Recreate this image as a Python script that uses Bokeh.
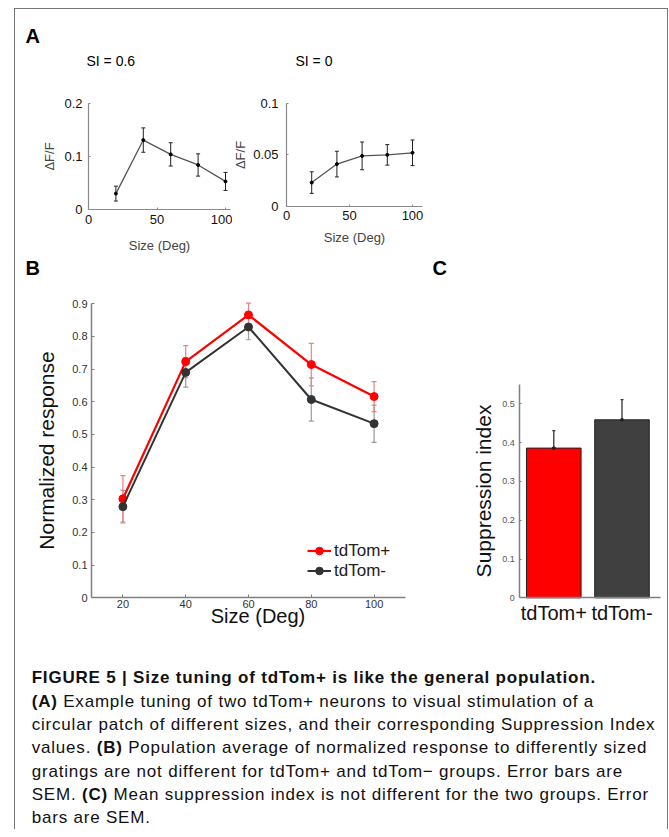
from bokeh.plotting import figure
from bokeh.models import (ColumnDataSource, Whisker, TeeHead, Label, Legend, LegendItem,
                          FixedTicker, Range1d, Div, Spacer)
from bokeh.layouts import row, column
from bokeh.embed import file_html
from bokeh.resources import INLINE

# ---------------- data ----------------
sizes_a = [20, 40, 60, 80, 100]
a1_resp = [0.030, 0.131, 0.104, 0.084, 0.053]
a1_sem = [0.014, 0.023, 0.022, 0.021, 0.017]
a2_resp = [0.023, 0.041, 0.049, 0.050, 0.052]
a2_sem = [0.0105, 0.0125, 0.0135, 0.010, 0.0125]

sizes_b = [20, 40, 60, 80, 100]
b_pos = [0.303, 0.723, 0.866, 0.714, 0.616]
b_pos_sem = [0.071, 0.049, 0.036, 0.065, 0.046]
b_neg = [0.279, 0.690, 0.829, 0.607, 0.533]
b_neg_sem = [0.050, 0.045, 0.039, 0.066, 0.057]

groups_c = ["tdTom+", "tdTom-"]
si_c = [0.386, 0.459]
si_sem = [0.045, 0.052]

a1_xticks = [0, 50, 100]
a1_yticks = [0, 0.1, 0.2]
a1_ylabels = ["0", "0.1", "0.2"]
a2_xticks = [0, 50, 100]
a2_yticks = [0, 0.05, 0.1]
a2_ylabels = ["0", "0.05", "0.1"]
b_xticks = [20, 40, 60, 80, 100]
b_yticks = [0, 0.1, 0.2, 0.3, 0.4, 0.5, 0.6, 0.7, 0.8, 0.9]
b_ylabels = ["0", "0.1", "0.2", "0.3", "0.4", "0.5", "0.6", "0.7", "0.8", "0.9"]
c_yticks = [0, 0.1, 0.2, 0.3, 0.4, 0.5]
c_ylabels = ["0", "0.1", "0.2", "0.3", "0.4", "0.5"]

FONT = "Liberation Sans"


def span(lo_px, hi_px, anchor_px, anchor_val, ppu, flip=False):
    """Range whose ends fall on pixel edges lo_px/hi_px given an anchor and pixels per unit."""
    if flip:  # vertical: pixels grow downward
        return Range1d(anchor_val + (anchor_px - hi_px) / ppu, anchor_val + (anchor_px - lo_px) / ppu)
    return Range1d(anchor_val + (lo_px - anchor_px) / ppu, anchor_val + (hi_px - anchor_px) / ppu)


def full_fig(x0, x1, y0, y1, xr, yr):
    p = figure(width=x1 - x0, height=y1 - y0, x_range=xr, y_range=yr,
               output_backend="svg", toolbar_location=None, title=None,
               min_border=0)
    p.xgrid.visible = False
    p.ygrid.visible = False
    p.outline_line_color = None
    p.background_fill_color = "white"
    p.border_fill_color = "white"
    for ax in (p.xaxis[0], p.yaxis[0]):
        ax.minor_tick_line_color = None
        ax.major_tick_out = 0
        ax.major_tick_in = 2
        ax.major_label_text_font = FONT
        ax.axis_label_text_font = FONT
        ax.axis_label_text_font_style = "normal"
    return p


def style_axis(ax, ticks, labels, size, color, axis_color, width, standoff, loc, bounds):
    ax.ticker = FixedTicker(ticks=ticks)
    ax.major_label_overrides = {t: l for t, l in zip(ticks, labels)}
    ax.major_label_text_font_size = size
    ax.major_label_text_color = color
    ax.axis_line_color = axis_color
    ax.axis_line_width = width
    ax.major_tick_line_color = axis_color
    ax.major_label_standoff = standoff
    ax.fixed_location = loc
    ax.bounds = bounds


def add_label(p, text, x, y, size, bold=False, align="left", color="black"):
    p.add_layout(Label(x=x, y=y, x_units="screen", y_units="screen", text=text,
                       text_font=FONT, text_font_size=size, text_color=color,
                       text_font_style="bold" if bold else "normal",
                       text_align=align, text_baseline="alphabetic"))


def err_src(xs, ys, es):
    return ColumnDataSource(dict(x=xs, y=ys,
                                 lo=[v - e for v, e in zip(ys, es)],
                                 hi=[v + e for v, e in zip(ys, es)]))


# ---------------- panel A1 (page px 15..232 x 9..255) ----------------
pa1 = full_fig(15, 232, 9, 255, span(15, 232, 88, 0, 1.37), span(9, 255, 209, 0, 530, flip=True))
style_axis(pa1.xaxis[0], a1_xticks, [str(t) for t in a1_xticks], "13px", "#111", "#8a8a8a", 1.2, 5, 0, (0, 103.6))
style_axis(pa1.yaxis[0], a1_yticks, a1_ylabels, "13px", "#111", "#8a8a8a", 1.2, 6, 0, (0, 0.2))
pa1.xaxis.axis_label = "Size (Deg)"
pa1.xaxis.axis_label_text_font_size = "13px"
pa1.xaxis.axis_label_standoff = 11
pa1.yaxis.axis_label = "\u0394F/F"
pa1.yaxis.axis_label_text_font_size = "13px"
pa1.yaxis.axis_label_standoff = 4
src_a1 = err_src(sizes_a, a1_resp, a1_sem)
pa1.add_layout(Whisker(source=src_a1, base="x", lower="lo", upper="hi",
                       line_color="#222", line_width=1,
                       upper_head=TeeHead(size=4, line_color="#222", line_width=1),
                       lower_head=TeeHead(size=4, line_color="#222", line_width=1)))
pa1.line("x", "y", source=src_a1, line_color="#555", line_width=1.3)
pa1.scatter("x", "y", source=src_a1, size=3, color="black")
add_label(pa1, "A", 10, 220, "20px", bold=True)
add_label(pa1, "SI = 0.6", 71, 195, "14px")

# ---------------- panel A2 (page px 232..440 x 9..255) ----------------
pa2 = full_fig(232, 440, 9, 255, span(232, 440, 286, 0, 1.26), span(9, 255, 205.7, 0, 1027, flip=True))
style_axis(pa2.xaxis[0], a2_xticks, [str(t) for t in a2_xticks], "13px", "#111", "#8a8a8a", 1.2, 5, 0, (0, 108))
style_axis(pa2.yaxis[0], a2_yticks, a2_ylabels, "13px", "#111", "#8a8a8a", 1.2, 8, 0, (0, 0.1))
pa2.xaxis.axis_label = "Size (Deg)"
pa2.xaxis.axis_label_text_font_size = "13px"
pa2.xaxis.axis_label_standoff = 6
pa2.yaxis.axis_label = "\u0394F/F"
pa2.yaxis.axis_label_text_font_size = "13px"
pa2.yaxis.axis_label_standoff = 2
src_a2 = err_src(sizes_a, a2_resp, a2_sem)
pa2.add_layout(Whisker(source=src_a2, base="x", lower="lo", upper="hi",
                       line_color="#222", line_width=1,
                       upper_head=TeeHead(size=4, line_color="#222", line_width=1),
                       lower_head=TeeHead(size=4, line_color="#222", line_width=1)))
pa2.line("x", "y", source=src_a2, line_color="#555", line_width=1.3)
pa2.scatter("x", "y", source=src_a2, size=3, color="black")
add_label(pa2, "SI = 0", 63, 195, "14px")

# ---------------- panel B (page px 15..450 x 255..640) ----------------
pb = full_fig(15, 450, 255, 640, span(15, 450, 91, 10, 3.14), span(255, 640, 597.3, 0, 326.67, flip=True))
style_axis(pb.xaxis[0], b_xticks, [str(t) for t in b_xticks], "11px", "#333", "#808080", 1.5, 2, 0, (10, 110))
style_axis(pb.yaxis[0], b_yticks, b_ylabels, "11px", "#333", "#808080", 1.5, 4, 10, (0, 0.9))
pb.xaxis.major_tick_in = 3
pb.yaxis.major_tick_in = 3
pb.yaxis.axis_label = "Normalized response"
pb.yaxis.axis_label_text_font_size = "21px"
pb.yaxis.axis_label_text_color = "#111"
pb.yaxis.axis_label_standoff = 11

src_bp = err_src(sizes_b, b_pos, b_pos_sem)
src_bn = err_src(sizes_b, b_neg, b_neg_sem)
for src, col in ((src_bn, "#9a9a9a"), (src_bp, "#f08080")):
    pb.add_layout(Whisker(source=src, base="x", lower="lo", upper="hi",
                          line_color=col, line_width=1.2,
                          upper_head=TeeHead(size=5, line_color=col, line_width=1.2),
                          lower_head=TeeHead(size=5, line_color=col, line_width=1.2)))
ln_p = pb.line("x", "y", source=src_bp, line_color="#ff0000", line_width=2.2)
sc_p = pb.scatter("x", "y", source=src_bp, size=8, color="#ff0000")
ln_n = pb.line("x", "y", source=src_bn, line_color="#333333", line_width=2)
sc_n = pb.scatter("x", "y", source=src_bn, size=8, color="#333333")
legend = Legend(items=[LegendItem(label="tdTom+", renderers=[ln_p, sc_p]),
                       LegendItem(label="tdTom-", renderers=[ln_n, sc_n])],
                location=(292, 59.5), glyph_width=24, glyph_height=19, label_height=19,
                label_standoff=3, spacing=0, padding=0, margin=0,
                border_line_color=None, background_fill_alpha=0,
                label_text_font=FONT, label_text_font_size="17px", label_text_color="#222")
pb.add_layout(legend)
add_label(pb, "Size (Deg)", 242.5, 25, "20px", align="center", color="#111")
add_label(pb, "B", 10, 373, "20px", bold=True)
add_label(pb, "C", 417, 373, "20px", bold=True)

# ---------------- panel C (page px 450..667 x 255..640) ----------------
pc = full_fig(450, 667, 255, 640, span(450, 667, 553.3, 1, 68.2), span(255, 640, 597.3, 0, 387.8, flip=True))
xpos_c = [i + 1 for i in range(len(groups_c))]
style_axis(pc.xaxis[0], xpos_c, groups_c, "20px", "#111", "#808080", 1.5, 4, 0, (0.5, 2.565))
style_axis(pc.yaxis[0], c_yticks, c_ylabels, "9px", "#555", "#808080", 1.5, 5, 0.5, (0, 0.55))
pc.xaxis.major_tick_in = 0
pc.yaxis.axis_label = "Suppression index"
pc.yaxis.axis_label_text_font_size = "21px"
pc.yaxis.axis_label_text_color = "#111"
pc.yaxis.axis_label_standoff = 4
src_c = ColumnDataSource(dict(x=xpos_c, top=si_c, hi=[v + e for v, e in zip(si_c, si_sem)],
                              color=["#ff0000", "#404040"]))
pc.vbar(x="x", top="top", width=0.8, bottom=0, source=src_c, fill_color="color",
        line_color="#222", line_width=1)
pc.add_layout(Whisker(source=src_c, base="x", lower="top", upper="hi",
                      line_color="#333", line_width=1.3, level="overlay",
                      upper_head=TeeHead(size=3, line_color="#333", line_width=1.3),
                      lower_head=None))
pc.scatter("x", "top", source=src_c, size=3, color="#222")

# ---------------- caption (page px 15..667 x 640..829) ----------------
caption_html = (
    "<div style=\"font-family:'Liberation Sans',Arial,sans-serif;font-size:17px;"
    "line-height:23.3px;letter-spacing:0.8px;color:#111;padding:26.4px 0 0 16.7px;"
    "white-space:nowrap;margin:0;\">"
    "<b>FIGURE 5 | Size tuning of tdTom+ is like the general population.</b><br>"
    "<b>(A)</b> Example tuning of two tdTom+ neurons to visual stimulation of a<br>"
    "circular patch of different sizes, and their corresponding Suppression Index<br>"
    "values. <b>(B)</b> Population average of normalized response to differently sized<br>"
    "gratings are not different for tdTom+ and tdTom\u2212 groups. Error bars are<br>"
    "SEM. <b>(C)</b> Mean suppression index is not different for the two groups. Error<br>"
    "bars are SEM.</div>"
)
cap = Div(text=caption_html, width=652, height=189, margin=0, styles={"overflow": "hidden"})

BORDER = {"background-color": "#777777"}
content = column(row(pa1, pa2, Spacer(width=227, height=246)), row(pb, pc), cap)
framed = row(Spacer(width=1, height=821, styles=BORDER),
             column(Spacer(width=652, height=1, styles=BORDER), content),
             Spacer(width=1, height=821, styles=BORDER))
root = column(Spacer(width=660, height=8), row(Spacer(width=14, height=821), framed))

open("out.html", "w").write(file_html(root, INLINE))
